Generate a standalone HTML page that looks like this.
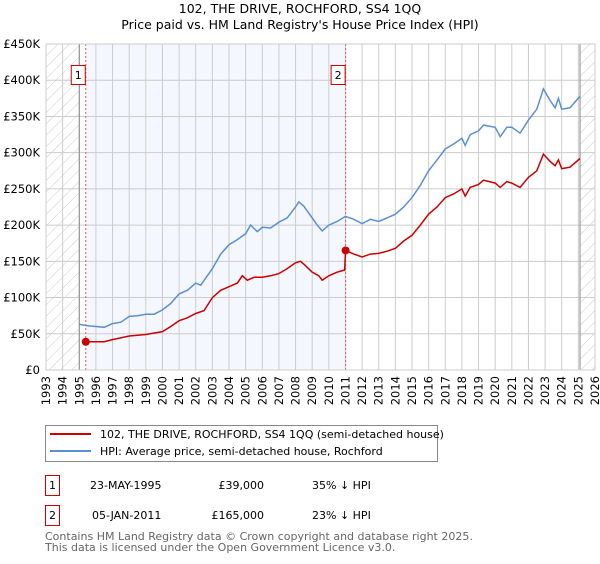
<!DOCTYPE html>
<html><head><meta charset="utf-8"><style>
body{margin:0;background:#fff;font-family:"DejaVu Sans","Liberation Sans",sans-serif}
svg text{font-family:"DejaVu Sans","Liberation Sans",sans-serif}
</style></head><body>
<svg id="c" width="600" height="560" xmlns="http://www.w3.org/2000/svg">
<defs><pattern id="hatch" width="8" height="8" patternUnits="userSpaceOnUse" patternTransform="rotate(45)"><line x1="0" y1="0" x2="0" y2="8" stroke="#ccc" stroke-width="1"/></pattern></defs>
<text x="300" y="13" font-size="12.5" text-anchor="middle">102, THE DRIVE, ROCHFORD, SS4 1QQ</text>
<text x="300" y="29" font-size="12.5" text-anchor="middle">Price paid vs. HM Land Registry's House Price Index (HPI)</text>
<g id="plot"></g>
<g>
<rect x="45.5" y="425.5" width="392" height="36" fill="#fff" stroke="#888"/>
<line x1="50" y1="434" x2="91" y2="434" stroke="#cc0000" stroke-width="2"/>
<text x="100" y="438" font-size="11">102, THE DRIVE, ROCHFORD, SS4 1QQ (semi-detached house)</text>
<line x1="50" y1="451" x2="91" y2="451" stroke="#5b8fd4" stroke-width="2"/>
<text x="100" y="455" font-size="11">HPI: Average price, semi-detached house, Rochford</text>
</g>
<g font-size="11">
<rect x="45.5" y="475.5" width="14" height="20" fill="#fff" stroke="#cc0000"/><text x="52.5" y="489" text-anchor="middle">1</text>
<text x="90" y="489">23-MAY-1995</text><text x="264" y="489" text-anchor="end">£39,000</text><text x="312" y="489">35% ↓ HPI</text>
<rect x="45.5" y="505.5" width="14" height="20" fill="#fff" stroke="#cc0000"/><text x="52.5" y="519" text-anchor="middle">2</text>
<text x="92" y="519">05-JAN-2011</text><text x="264" y="519" text-anchor="end">£165,000</text><text x="312" y="519">23% ↓ HPI</text>
</g>
<text x="45" y="540" font-size="11" fill="#666">Contains HM Land Registry data © Crown copyright and database right 2025.</text>
<text x="45" y="551" font-size="11" fill="#666">This data is licensed under the Open Government Licence v3.0.</text>
</svg>
<script>
const yTicks=[0,50,100,150,200,250,300,350,400,450];
const yTickLabels=["£0","£50K","£100K","£150K","£200K","£250K","£300K","£350K","£400K","£450K"];
const xYears=[1993,1994,1995,1996,1997,1998,1999,2000,2001,2002,2003,2004,2005,2006,2007,2008,2009,2010,2011,2012,2013,2014,2015,2016,2017,2018,2019,2020,2021,2022,2023,2024,2025,2026];
const hpiT=[1995.0,1995.5,1996,1996.5,1997,1997.5,1998,1998.5,1999,1999.5,2000,2000.5,2001,2001.5,2002,2002.3,2003,2003.5,2004,2004.5,2005,2005.3,2005.7,2006,2006.5,2007,2007.5,2008,2008.2,2008.5,2009,2009.3,2009.6,2010,2010.5,2011,2011.5,2012,2012.5,2013,2013.5,2014,2014.5,2015,2015.5,2016,2016.5,2017,2017.5,2018,2018.2,2018.5,2019,2019.3,2020,2020.3,2020.7,2021,2021.5,2022,2022.5,2022.9,2023.3,2023.6,2023.8,2024,2024.5,2025.1];
const hpiV=[63,61,60,59,64,66,74,75,77,77,83,92,105,110,120,117,140,160,173,180,188,200,191,197,196,204,210,225,232,226,210,200,192,200,205,212,208,202,208,205,210,215,225,238,255,275,290,305,312,320,310,325,330,338,335,322,335,335,327,345,360,388,372,362,375,360,362,378];
const priceT=[1995.39,1996,1996.5,1997,1998,1999,2000,2000.5,2001,2001.5,2002,2002.5,2003,2003.5,2004,2004.5,2004.8,2005.1,2005.5,2006,2006.5,2007,2007.5,2008,2008.3,2008.5,2009,2009.4,2009.6,2010,2010.5,2010.95,2011.01,2011.5,2012,2012.5,2013,2013.5,2014,2014.5,2015,2015.5,2016,2016.5,2017,2017.5,2018,2018.2,2018.5,2019,2019.3,2020,2020.3,2020.7,2021,2021.5,2022,2022.5,2022.9,2023.3,2023.6,2023.8,2024,2024.5,2025.1];
const priceV=[39,39,39,42,47,49,53,60,68,72,78,82,100,110,115,120,130,124,128,128,130,133,140,148,150,146,135,130,124,130,135,138,165,160,156,160,161,164,168,178,186,200,215,225,238,243,250,240,252,256,262,258,252,260,258,252,266,275,298,288,282,290,278,280,292];
const salesT=[1995.39,2011.01];
const salesV=[39,165];
const salesLabels=["1","2"];

const L=46,R=595,T=44,B=370;
const x=t=>L+(t-1993)/(2026-1993)*(R-L);
const y=v=>B-v/450*(B-T);
const NS="http://www.w3.org/2000/svg";
const g=document.getElementById('plot');
function mk(tag,attrs,parent){const e=document.createElementNS(NS,tag);for(const k in attrs)e.setAttribute(k,attrs[k]);(parent||g).appendChild(e);return e;}
let r=mk('rect',{x:L,y:T,width:R-L,height:B-T,fill:'#fff'});


r=mk('rect',{x:x(salesT[0]),y:T,width:x(salesT[1])-x(salesT[0]),height:B-T,fill:'#f4f7fe'});


r=mk('rect',{x:L,y:T,width:x(1995)-L,height:B-T,fill:'url(#hatch)'});


r=mk('rect',{x:x(2025.1),y:T,width:R-x(2025.1),height:B-T,fill:'url(#hatch)'});


xYears.forEach(yr=>{
  let l=mk('line',{x1:x(yr),x2:x(yr),y1:T,y2:B,stroke:'#ccc','stroke-width':1});
  
  
  let t=mk('text',{x:0,y:0,'font-size':11.5,'text-anchor':'end',transform:`translate(${x(yr)+4},${B+6}) rotate(-90)`});
  t.textContent=yr;
  
  
});
yTicks.forEach((v,i)=>{
  let l=mk('line',{x1:L,x2:R,y1:y(v),y2:y(v),stroke:'#ccc','stroke-width':1});
  
  
  let t=mk('text',{x:L-6,y:y(v)+4,'font-size':11.5,'text-anchor':'end'});
  t.textContent=yTickLabels[i];
  
  
});
let b=mk('line',{x1:x(1995),x2:x(1995),y1:T,y2:B,stroke:'#888'});


b=mk('line',{x1:x(2025.1),x2:x(2025.1),y1:T,y2:B,stroke:'#888'});


salesT.forEach((t,i)=>{
  let l=mk('line',{x1:x(t),x2:x(t),y1:T,y2:B,stroke:'#e55','stroke-width':1,'stroke-dasharray':'2,2'});
  
  
  let bx=mk('rect',{x:x(t)-14.5,y:65.5,width:14,height:19,fill:'#fff',stroke:'#cc0000'});
  
  
  let tx=mk('text',{x:x(t)-7.5,y:79,'font-size':11,'text-anchor':'middle'});
  tx.textContent=salesLabels[i];
  
  
});
const path=(ts,vs)=>ts.map((t,i)=>(i?'L':'M')+x(t).toFixed(1)+','+y(vs[i]).toFixed(1)).join('');
let p=mk('path',{d:path(hpiT,hpiV),fill:'none',stroke:'#5b8fd4','stroke-width':1.5});


p=mk('path',{d:path(priceT,priceV),fill:'none',stroke:'#cc0000','stroke-width':1.5});


salesT.forEach((t,i)=>{
  let c=mk('circle',{cx:x(t),cy:y(salesV[i]),r:4,fill:'#cc0000'});
  
  
});
let fr=mk('rect',{x:L,y:T,width:R-L,height:B-T,fill:'none',stroke:'#ccc'});


</script>
</body></html>
